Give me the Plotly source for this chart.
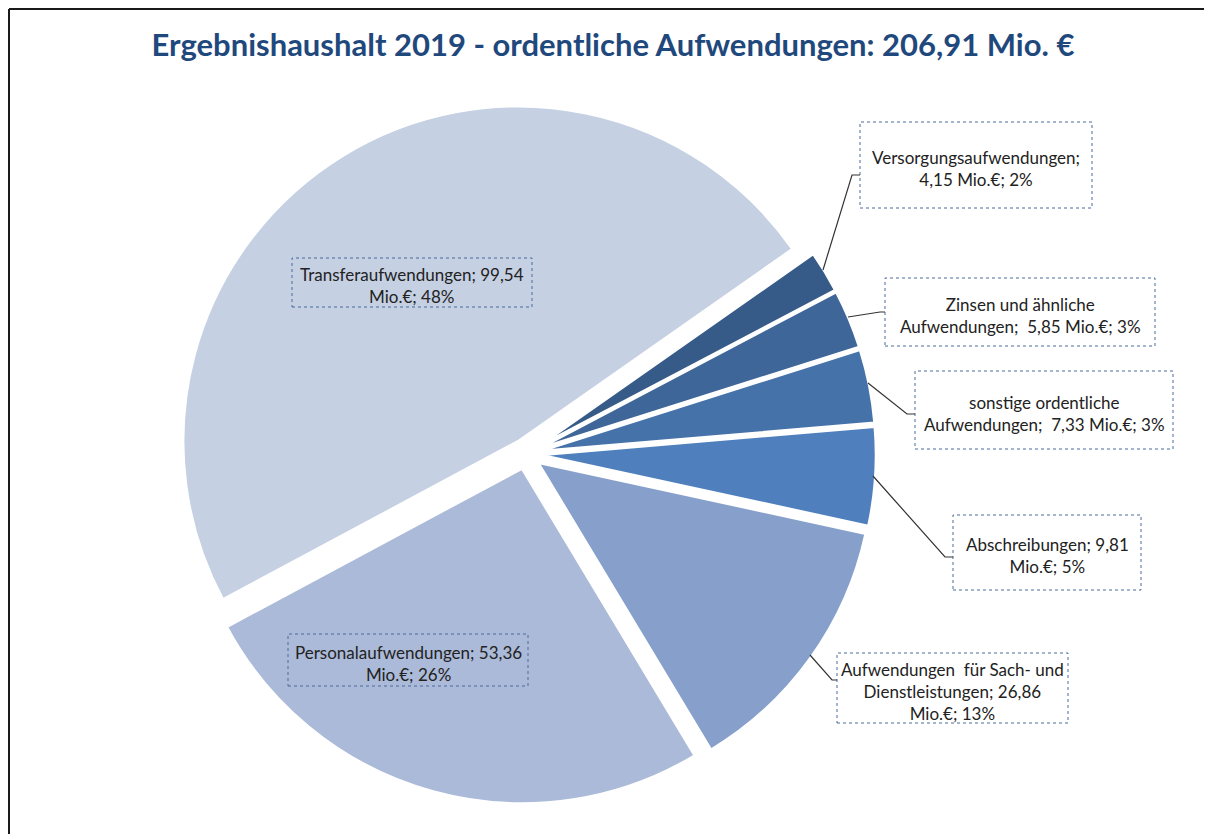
import plotly.graph_objects as go

# the page puts an 8px margin round the plot, so the figure is that much smaller
OFF = 8
W, H = 1212 - OFF, 834 - OFF

# ordentliche Aufwendungen 2019 in Mio. €, clockwise starting top right
names = ["Versorgungsaufwendungen", "Zinsen und ähnliche Aufwendungen",
         "sonstige ordentliche Aufwendungen", "Abschreibungen",
         "Aufwendungen für Sach- und Dienstleistungen", "Personalaufwendungen",
         "Transferaufwendungen"]
values = [4.15, 5.85, 7.33, 9.81, 26.86, 53.36, 99.54]
shares = [2, 3, 3, 5, 13, 26, 48]
total = 206.91

# label text as printed in the chart ({v} value, {p} share)
label_templates = [
    "Versorgungsaufwendungen;<br>{v} Mio.€; {p}%",
    "Zinsen und ähnliche<br>Aufwendungen;  {v} Mio.€; {p}%",
    "sonstige ordentliche<br>Aufwendungen;  {v} Mio.€; {p}%",
    "Abschreibungen; {v}<br>Mio.€; {p}%",
    "Aufwendungen  für Sach- und<br>Dienstleistungen; {v}<br>Mio.€; {p}%",
    "Personalaufwendungen; {v}<br>Mio.€; {p}%",
    "Transferaufwendungen; {v}<br>Mio.€; {p}%",
]

colors = ["#375b88", "#3f6699", "#4672aa", "#4f80bd", "#86a0cb", "#abbad8", "#c5d0e3"]

# label boxes in window pixels (x0, y0, x1, y1)
boxes = [
    (860, 122, 1092, 208),
    (885, 278, 1155, 346),
    (915, 371, 1173, 449),
    (953, 515, 1141, 590),
    (837, 653, 1068, 723),
    (288, 634, 528, 686),
    (292, 258, 532, 307),
]
# leader lines in window pixels
leaders = [
    [(823, 270), (852, 175), (860, 175)],
    [(848, 317), (880, 312), (885, 312)],
    [(868, 383), (907, 414), (915, 414)],
    [(873, 476), (945, 557), (953, 557)],
    [(810, 655), (832, 680), (837, 680)],
]


def px(x):
    return (x - OFF) / W


def py(y):
    return 1 - (y - OFF) / H


def de(v):
    return f"{v:.2f}".replace(".", ",")


fig = go.Figure()
fig.add_trace(go.Pie(
    labels=names,
    values=values,
    sort=False,
    direction="clockwise",
    rotation=55,
    pull=0.045,
    marker=dict(colors=colors, line=dict(color="white", width=2.5)),
    textinfo="none",
    hovertemplate="%{label}: %{value:.2f} Mio.€<extra></extra>",
    domain=dict(x=[px(176), px(876)], y=[py(804), py(104)]),
    showlegend=False,
))

shapes = []
annotations = []
for i, tpl in enumerate(label_templates):
    x0, y0, x1, y1 = boxes[i]
    shapes.append(dict(type="rect", xref="paper", yref="paper",
                       x0=px(x0), x1=px(x1), y0=py(y1), y1=py(y0),
                       line=dict(color="#4a6a9c", width=1, dash="dot")))
    annotations.append(dict(
        xref="paper", yref="paper", x=px((x0 + x1) / 2), y=py((y0 + y1) / 2 + 3),
        text=tpl.format(v=de(values[i]), p=shares[i]),
        showarrow=False, align="center", xanchor="center", yanchor="middle",
        font=dict(family="Lato", size=17, color="#222222"),
    ))

for pts in leaders:
    path = "M " + " L ".join(f"{px(x)},{py(y)}" for x, y in pts)
    shapes.append(dict(type="path", xref="paper", yref="paper", path=path,
                       line=dict(color="#333333", width=1.2)))

# chart frame (top and left edges visible)
shapes.append(dict(type="line", xref="paper", yref="paper", x0=px(9), x1=1.0,
                   y0=py(9), y1=py(9), line=dict(color="#1a1a1a", width=2)))
shapes.append(dict(type="line", xref="paper", yref="paper", x0=px(9), x1=px(9),
                   y0=py(9), y1=0.0, line=dict(color="#1a1a1a", width=2)))

fig.update_layout(
    width=W,
    height=H,
    margin=dict(l=0, r=0, t=0, b=0),
    paper_bgcolor="white",
    plot_bgcolor="white",
    title=dict(
        text=f"<b>Ergebnishaushalt 2019 - ordentliche Aufwendungen: {de(total)} Mio. €</b>",
        x=px(613), xanchor="center", y=py(45), yanchor="middle", yref="container",
        font=dict(family="Lato", size=31, color="#1f497d"),
    ),
    shapes=shapes,
    annotations=annotations,
)

fig.write_html("out.html")
